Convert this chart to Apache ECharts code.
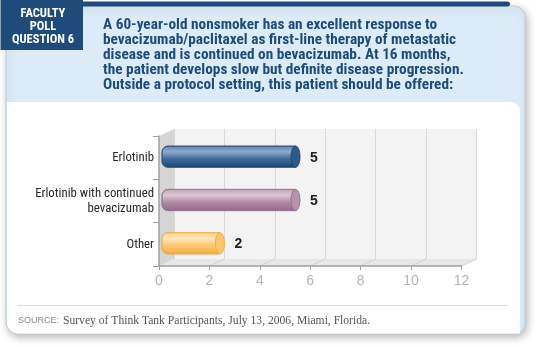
<!DOCTYPE html>
<html><head><meta charset="utf-8">
<script src="https://cdn.jsdelivr.net/npm/echarts@6/dist/echarts.min.js"></script>
<style>html,body{margin:0;padding:0;background:#fff}#c{width:540px;height:348px}</style>
</head><body><div id="c"></div>
<script>
// ---- data ----
const categories = ['Erlotinib', 'Erlotinib with continued\nbevacizumab', 'Other'];
const values = [5, 5, 2];
const xMin = 0, xMax = 12, xStep = 2;
const badgeLines = ['FACULTY', 'POLL', 'QUESTION 6'];
const questionLines = [
  'A 60-year-old nonsmoker has an excellent response to',
  'bevacizumab/paclitaxel as first-line therapy of metastatic',
  'disease and is continued on bevacizumab. At 16 months,',
  'the patient develops slow but definite disease progression.',
  'Outside a protocol setting, this patient should be offered:'
];
const sourceLabel = 'SOURCE:';
const sourceText = 'Survey of Think Tank Participants, July 13, 2006, Miami, Florida.';

// ---- styles ----
const barStyles = [
  {stops:['#5c82ad','#8eabcb','#3f6a9a','#1d4774'], cap:'#2e5a8a', edge:'#1b416c'},
  {stops:['#c3a2b8','#dcc6d4','#b28ba6','#93698a'], cap:'#b892ad', edge:'#8c6684'},
  {stops:['#fdd38a','#fee6bb','#fcc76e','#f4ae45'], cap:'#fcc66c', edge:'#eea23a'}
];
const NAVY = '#1f4b7b';
const LIGHTBLUE = '#dbecf8';
const DX = 15, DY = -7; // 3D depth offset
const FRONT = {left:159, top:136, width:302.5, height:130};
const condensed = "'Liberation Sans Narrow','Roboto Condensed','Liberation Sans',sans-serif";

const chart = echarts.init(document.getElementById('c'), null, {renderer:'canvas'});

function grad(s){
  return new echarts.graphic.LinearGradient(0,0,0,1,[
    {offset:0,color:s[0]},{offset:0.28,color:s[1]},{offset:0.6,color:s[2]},{offset:1,color:s[3]}]);
}

const option = {
  animation:false,
  grid:[
    {left:FRONT.left, top:FRONT.top, width:FRONT.width, height:FRONT.height, containLabel:false},
    {left:FRONT.left+DX, top:FRONT.top+DY, width:FRONT.width, height:FRONT.height, containLabel:false}
  ],
  xAxis:[
    {gridIndex:0, type:'value', min:xMin, max:xMax, interval:xStep,
     axisLine:{show:true, lineStyle:{color:'#a0a0a0', width:1.5}},
     axisTick:{show:true, length:4, lineStyle:{color:'#a0a0a0'}},
     axisLabel:{color:'#b4b4b4', fontSize:14, margin:8, fontFamily:"'Liberation Sans',sans-serif"},
     splitLine:{show:false}},
    {gridIndex:1, type:'value', min:xMin, max:xMax, interval:xStep,
     axisLine:{show:false}, axisTick:{show:false}, axisLabel:{show:false},
     splitLine:{show:true, lineStyle:{color:'#d9d9d9', width:1}}}
  ],
  yAxis:[
    {gridIndex:0, type:'category', data:categories, inverse:true,
     axisLine:{show:true, lineStyle:{color:'#a0a0a0', width:1.5}},
     axisTick:{show:true, length:6, interval:0, lineStyle:{color:'#a0a0a0'}},
     axisLabel:{color:'#2a2a2a', fontSize:12.8, margin:5, lineHeight:15, fontFamily:condensed}},
    {gridIndex:1, type:'category', data:categories, inverse:true, show:false}
  ],
  series:[{
    type:'custom', xAxisIndex:0, yAxisIndex:0, z:5,
    data: values.map((v,i)=>[v,i]),
    encode:{x:0, y:1},
    renderItem:function(params, api){
      const v = api.value(0), ci = api.value(1);
      const p0 = api.coord([0, ci]);
      const p1 = api.coord([v, ci]);
      const band = api.size([0,1])[1];
      const h = band*0.49;
      const yc = p0[1] - 1;
      const x0 = p0[0] + 3, x1 = p1[0] + DX;
      const rx = 4.5;
      const st = barStyles[ci];
      return {type:'group', children:[
        {type:'rect', shape:{x:x0, y:yc-h/2, width:x1-x0-rx, height:h, r:[6,0,0,6]},
         style:{fill:grad(st.stops), stroke:st.edge, lineWidth:0.6}},
        {type:'ellipse', shape:{cx:x1-rx, cy:yc, rx:rx, ry:h/2},
         style:{fill:st.cap, stroke:st.edge, lineWidth:0.8}},
        {type:'text', style:{text:String(v), x:x1+10, y:yc+1, align:'left', verticalAlign:'middle',
          font:"bold 14px 'Liberation Sans',sans-serif", fill:'#222'}}
      ]};
    }
  }]
};
chart.setOption(option);

// ---- decorations computed from the axes ----
function px(v, axisIdx){ return chart.convertToPixel({xAxisIndex:axisIdx}, v); }
const fx0 = px(xMin,0), fx1 = px(xMax,0);
const fyTop = FRONT.top, fyBot = FRONT.top + FRONT.height;
const g = [];
// card frame
g.push({type:'rect', z:-20, shape:{x:6, y:6, width:519, height:328, r:[0,11,10,12]},
  style:{fill:LIGHTBLUE, stroke:'#bfcad3', lineWidth:1, shadowBlur:8, shadowColor:'rgba(0,0,0,0.28)', shadowOffsetX:2, shadowOffsetY:3}});
g.push({type:'rect', z:-19, shape:{x:7, y:102, width:513, height:231.5, r:[0,9,0,11]}, style:{fill:'#ffffff'}});
g.push({type:'rect', z:-18, shape:{x:80, y:1.5, width:430, height:5, r:[0,4,3,0]}, style:{fill:NAVY}});
g.push({type:'rect', z:-17, shape:{x:0.5, y:0, width:82.5, height:50}, style:{fill:NAVY}});
g.push({type:'text', z:-16, style:{text:badgeLines.join('\n'), x:43, y:7, align:'center', verticalAlign:'top',
  font:"bold 12.5px "+condensed, lineHeight:13, fill:'#ffffff'}});
g.push({type:'text', z:-16, style:{text:questionLines.join('\n'), x:103, y:17.5, align:'left', verticalAlign:'top',
  font:"bold 15.3px "+condensed, lineHeight:15, fill:NAVY}});
// footer
g.push({type:'line', z:-16, shape:{x1:17, y1:305.5, x2:508, y2:305.5}, style:{stroke:'#dedede', lineWidth:1}});
g.push({type:'text', z:-16, style:{text:sourceLabel, x:18, y:321, align:'left', verticalAlign:'middle',
  font:"9px 'Liberation Sans',sans-serif", fill:'#8a8a8a'}});
g.push({type:'text', z:-16, style:{text:sourceText, x:63, y:321, align:'left', verticalAlign:'middle',
  font:"11.6px 'Liberation Serif',serif", fill:'#555'}});
// 3D walls
g.push({type:'polygon', z:-10, shape:{points:[[fx0,fyBot],[fx1,fyBot],[fx1+DX,fyBot+DY],[fx0+DX,fyBot+DY]]},
  style:{fill:'#e7e7e7'}});
g.push({type:'rect', z:-11, shape:{x:fx0+DX, y:fyTop+DY, width:fx1-fx0, height:FRONT.height}, style:{fill:'#f3f3f3'}});
g.push({type:'polygon', z:-9, shape:{points:[[fx0,fyTop],[fx0+DX,fyTop+DY],[fx0+DX,fyBot+DY],[fx0,fyBot]]},
  style:{fill:'#d5d5d5'}});
for (let v = xMin + xStep; v <= xMax; v += xStep){
  const fx = px(v,0);
  g.push({type:'line', z:-8, shape:{x1:fx, y1:fyBot, x2:fx+DX, y2:fyBot+DY}, style:{stroke:'#d2d2d2', lineWidth:1}});
}
chart.setOption({graphic:{elements:g}});
</script></body></html>
